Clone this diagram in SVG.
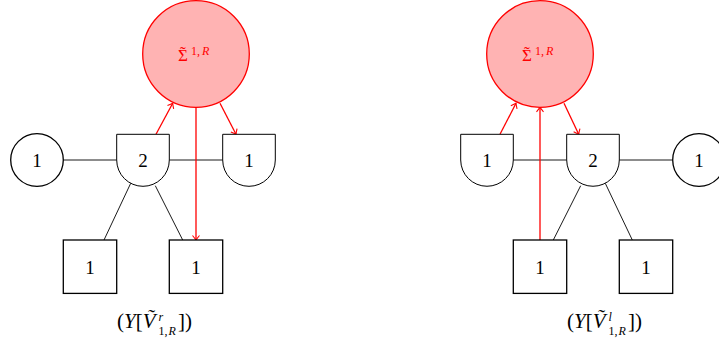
<svg xmlns="http://www.w3.org/2000/svg" width="719" height="338" viewBox="0 0 719 338">
<style>
.bg{fill:#ffffff}
.nd{fill:#ffffff;stroke:#000;stroke-width:1.3}
.hd{fill:#ffffff;stroke:#000;stroke-width:1}
.big{fill:#ffb3b3;stroke:#ff0000;stroke-width:1.3}
.ln{stroke:#000;stroke-width:0.9;fill:none}
.rl{stroke:#ff0000;stroke-width:1.3;fill:none;marker-end:url(#ar)}
text{font-family:'Liberation Serif','DejaVu Serif',serif}
.lb{font-size:19px;fill:#000;text-anchor:middle}
.sg{fill:#ff0000;font-size:12px}
.sgm{fill:#ff0000;font-size:17px}
.cp{fill:#000;font-size:21px}
.it{font-style:italic}
</style>
<defs>
<marker id="ar" viewBox="-6 -5 8 10" markerWidth="8" markerHeight="10" markerUnits="userSpaceOnUse" refX="0" refY="0" orient="auto">
<path d="M-4.5,-3.5 Q-1.5,-1 0,0 Q-1.5,1 -4.5,3.5" fill="none" stroke="#ff0000" stroke-width="1.1"/>
</marker>
</defs>
<rect class="bg" x="0" y="0" width="719" height="338"/>

<g id="connectors">
<line class="ln" x1="63.3" y1="160" x2="116.7" y2="160"/>
<line class="ln" x1="169.3" y1="160" x2="222.7" y2="160"/>
<line class="ln" x1="130.7" y1="183.3" x2="104" y2="240"/>
<line class="ln" x1="155.3" y1="185.7" x2="182.7" y2="240"/>
<line class="ln" x1="513.3" y1="160" x2="566.7" y2="160"/>
<line class="ln" x1="619.3" y1="160" x2="672.7" y2="160"/>
<line class="ln" x1="580.7" y1="185.7" x2="553.3" y2="240"/>
<line class="ln" x1="605.3" y1="183.3" x2="632.3" y2="240"/>
<line class="rl" x1="156" y1="134.3" x2="172.7" y2="103.3"/>
<line class="rl" x1="220" y1="103.3" x2="236" y2="134.3"/>
<line class="rl" x1="196" y1="107.3" x2="196" y2="240"/>
<line class="rl" x1="500" y1="134.3" x2="516" y2="103.3"/>
<line class="rl" x1="564" y1="103.3" x2="578.7" y2="134.3"/>
<line class="rl" x1="540" y1="240" x2="540" y2="107.3"/>
</g>

<g id="sigmaL">
<circle class="big" cx="196" cy="54" r="53.3"/>
<text class="sgm" x="178" y="61" dx="0 -7.9" dy="0 -3">Σ˜</text>
<text class="sg" x="191" y="55">1,<tspan class="it" dx="2">R</tspan></text>
</g>
<g id="sigmaR">
<circle class="big" cx="540" cy="54" r="53.3"/>
<text class="sgm" x="522" y="61" dx="0 -7.9" dy="0 -3">Σ˜</text>
<text class="sg" x="535" y="55">1,<tspan class="it" dx="2">R</tspan></text>
</g>

<g id="circL">
<circle class="nd" cx="37" cy="160" r="26.3"/>
<text class="lb" x="37" y="167">1</text>
</g>
<g id="halfL2">
<path class="hd" d="M116.7,134.3 H169.3 V160 A26.3,26.3 0 0 1 116.7,160 Z"/>
<text class="lb" x="143" y="167">2</text>
</g>
<g id="halfL1">
<path class="hd" d="M222.7,134.3 H275.3 V160 A26.3,26.3 0 0 1 222.7,160 Z"/>
<text class="lb" x="249" y="167">1</text>
</g>
<g id="sqL1">
<rect class="nd" x="63.3" y="240" width="53.4" height="53.4"/>
<text class="lb" x="90" y="273.5">1</text>
</g>
<g id="sqL2">
<rect class="nd" x="169.3" y="240" width="53.4" height="53.4"/>
<text class="lb" x="196" y="273.5">1</text>
</g>

<g id="halfR1">
<path class="hd" d="M460.7,134.3 H513.3 V160 A26.3,26.3 0 0 1 460.7,160 Z"/>
<text class="lb" x="487" y="167">1</text>
</g>
<g id="halfR2">
<path class="hd" d="M566.7,134.3 H619.3 V160 A26.3,26.3 0 0 1 566.7,160 Z"/>
<text class="lb" x="593" y="167">2</text>
</g>
<g id="circR">
<circle class="nd" cx="699" cy="160" r="26.3"/>
<text class="lb" x="699" y="167">1</text>
</g>
<g id="sqR1">
<rect class="nd" x="513.3" y="240" width="53.4" height="53.4"/>
<text class="lb" x="540" y="273.5">1</text>
</g>
<g id="sqR2">
<rect class="nd" x="619.3" y="240" width="53.4" height="53.4"/>
<text class="lb" x="646" y="273.5">1</text>
</g>

<g id="captionL">
<text class="cp" x="117" y="328">(<tspan class="it">Y</tspan>[<tspan class="it">Ṽ</tspan><tspan class="it" x="158.5" dy="-7.5" font-size="12">r</tspan><tspan x="158.5" dy="14.5" font-size="12">1,<tspan class="it" dx="1">R</tspan></tspan><tspan x="178" dy="-7">])</tspan></text>
</g>
<g id="captionR">
<text class="cp" x="567" y="328">(<tspan class="it">Y</tspan>[<tspan class="it">Ṽ</tspan><tspan class="it" x="608.5" dy="-7.5" font-size="12">l</tspan><tspan x="608.5" dy="14.5" font-size="12">1,<tspan class="it" dx="1">R</tspan></tspan><tspan x="628" dy="-7">])</tspan></text>
</g>
</svg>
